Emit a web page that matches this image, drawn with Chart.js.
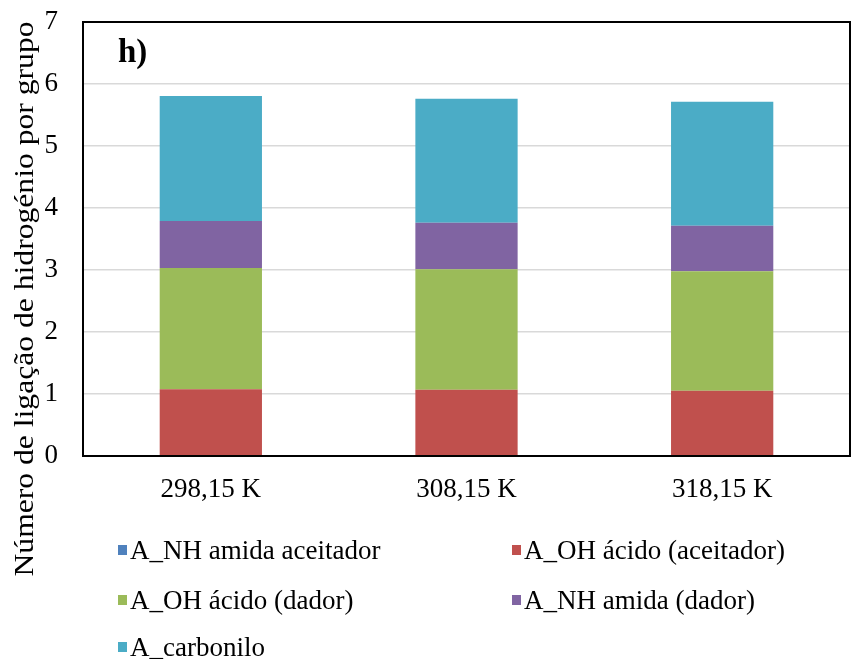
<!DOCTYPE html>
<html>
<head>
<meta charset="utf-8">
<script src="https://cdn.jsdelivr.net/npm/chart.js@4/dist/chart.umd.min.js"></script>
<style>
  html, body { margin: 0; padding: 0; background: #fff; }
  #wrap { width: 851px; height: 659px; position: relative; }
</style>
</head>
<body>
<div id="wrap"><canvas id="c" width="851" height="659"></canvas></div>
<script>
// temperatures on the x axis
const temperatures = ['298,15 K', '308,15 K', '318,15 K'];

// hydrogen bonds per group, one array per series
const nhAmidaAceitador = [0, 0, 0];
const ohAcidoAceitador = [1.075, 1.07, 1.053];
const ohAcidoDador = [1.957, 1.941, 1.926];
const nhAmidaDador = [0.758, 0.752, 0.736];
const carbonilo = [2.016, 2.0, 2.0];

const yTicks = [0, 1, 2, 3, 4, 5, 6, 7];

const serif = '"Liberation Serif", "Times New Roman", serif';

const datasets = [
  { label: 'A_NH amida aceitador', data: nhAmidaAceitador, backgroundColor: '#4F81BD' },
  { label: 'A_OH ácido (aceitador)', data: ohAcidoAceitador, backgroundColor: '#C0504D' },
  { label: 'A_OH ácido (dador)', data: ohAcidoDador, backgroundColor: '#9BBB59' },
  { label: 'A_NH amida (dador)', data: nhAmidaDador, backgroundColor: '#8064A2' },
  { label: 'A_carbonilo', data: carbonilo, backgroundColor: '#4BACC6' }
];

// frame, panel letter, rotated y title and the two-column legend
const extras = {
  id: 'extras',
  afterDraw(chart) {
    const ctx = chart.ctx;
    const a = chart.chartArea;
    ctx.save();
    ctx.strokeStyle = '#000';
    ctx.lineWidth = 2;
    ctx.strokeRect(a.left, a.top, a.right - a.left, a.bottom - a.top);

    ctx.fillStyle = '#000';
    ctx.font = 'bold 33px ' + serif;
    ctx.textBaseline = 'alphabetic';
    ctx.fillText('h)', 118, 62);

    // y axis title, spread over the full height
    const title = 'Número de ligação de hidrogénio por grupo';
    ctx.font = '27px ' + serif;
    const w = ctx.measureText(title).width;
    ctx.save();
    ctx.translate(33, 299);
    ctx.rotate(-Math.PI / 2);
    ctx.scale(555 / w, 1);
    ctx.textAlign = 'center';
    ctx.fillText(title, 0, 0);
    ctx.restore();

    // legend
    const cols = [118, 512];
    const rows = [559, 609, 656];
    chart.data.datasets.forEach((ds, i) => {
      const x = cols[i % 2];
      const y = rows[Math.floor(i / 2)];
      ctx.fillStyle = ds.backgroundColor;
      ctx.fillRect(x, y - 14, 9, 10);
      ctx.fillStyle = '#000';
      ctx.font = '27px ' + serif;
      ctx.textAlign = 'left';
      ctx.fillText(ds.label, x + 12, y);
    });
    ctx.restore();
  }
};

new Chart(document.getElementById('c'), {
  type: 'bar',
  data: { labels: temperatures, datasets: datasets },
  options: {
    responsive: false,
    animation: false,
    layout: { padding: { top: 22, right: 1, bottom: 143, left: 0 } },
    datasets: { bar: { categoryPercentage: 0.4, barPercentage: 1, borderWidth: 0 } },
    plugins: { legend: { display: false }, tooltip: { enabled: false } },
    scales: {
      x: {
        stacked: true,
        grid: { display: false, drawTicks: false },
        border: { display: true, color: '#000', width: 2 },
        ticks: { color: '#000', font: { family: serif, size: 27 }, padding: 18 },
        afterFit(s) { s.height = 60; }
      },
      y: {
        stacked: true,
        min: 0,
        max: 7,
        afterBuildTicks(s) { s.ticks = yTicks.map(v => ({ value: v })); },
        grid: { color: '#d9d9d9', lineWidth: 1.5, drawTicks: false },
        border: { display: true, color: '#000', width: 2 },
        ticks: { color: '#000', font: { family: serif, size: 27 }, padding: 25 },
        afterFit(s) { s.width = 83; s.paddingTop = 0; s.paddingBottom = 0; }
      }
    }
  },
  plugins: [extras]
});
</script>
</body>
</html>
